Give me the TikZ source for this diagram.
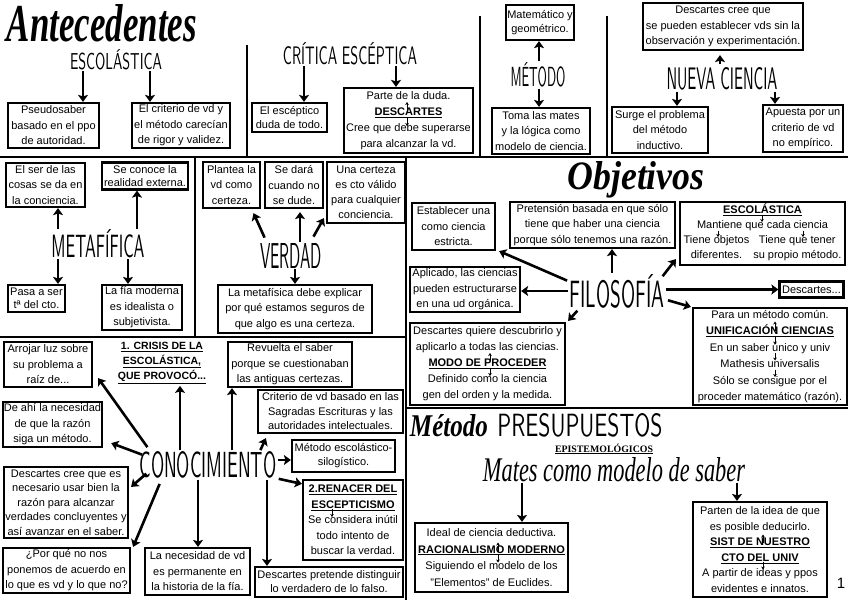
\documentclass[tikz,border=0pt]{standalone}
\usepackage{graphicx}
\usepackage{fontspec}
\setmainfont{Liberation Sans}
\newfontfamily\serifff{Liberation Serif}
\usetikzlibrary{arrows.meta,calc}
\newcommand\thincap[3]{\resizebox{#1pt}{#2pt}{\sffamily #3}}
\begin{document}
\begin{tikzpicture}[x=1pt,y=-1pt]
\tikzset{
 bx/.style={draw, line width=2.2pt, fill=white, align=center, inner sep=1pt, font=\fontsize{11}{15.5}\selectfont},
 arr/.style={line width=2.6pt, -{Stealth[length=7pt,width=10pt,inset=1.5pt]}, shorten <=1pt},
 sarr/.style={line width=0.9pt, -{Stealth[length=3pt,width=3.6pt]}},
 div/.style={line width=2.4pt},
 ttl/.style={inner sep=0pt},
}
\fill[white] (0,0) rectangle (848,600);
\useasboundingbox (0,0) rectangle (848,600);

% dividers
\draw[div] (0,157) -- (848,157);
\draw[div] (247,45) -- (247,157);
\draw[div] (480,16) -- (480,157);
\draw[div] (607,16) -- (607,157);
\draw[div] (195,157) -- (195,337);
\draw[div] (406,157) -- (406,600);
\draw[div] (0,337) -- (406,337);
\draw[div] (406,408) -- (848,408);

% ===== Antecedentes
\node[ttl] (ante) at (102,23.5) {\resizebox{190pt}{37pt}{\serifff\bfseries\itshape Antecedentes}};
\node[ttl] (escol) at (116,60) {\thincap{92}{20}{ESCOLÁSTICA}};
\node[bx, minimum width=91pt, minimum height=45pt] (pseudo) at (53.5,125.5) {Pseudosaber\\basado en el ppo\\de autoridad.};
\node[bx, minimum width=98pt, minimum height=45pt] (crit1) at (181,125.5) {El criterio de vd y\\el método carecían\\de rigor y validez.};
\node[ttl] (critesc) at (350,54) {\thincap{134}{22}{CRÍTICA ESCÉPTICA}};
\node[bx, minimum width=75pt, minimum height=29pt, font=\fontsize{11}{14}\selectfont] (escep) at (289.5,117.5) {El escéptico\\duda de todo.};
\node[bx, minimum width=129pt, minimum height=65pt, font=\fontsize{11}{16}\selectfont] (desc1) at (408.5,120.5) {Parte de la duda.\\\textbf{\underline{DESCARTES}}\\Cree que debe superarse\\para alcanzar la vd.};
\node[bx, minimum width=66pt, minimum height=35pt, font=\fontsize{11}{14}\selectfont] (matem) at (540,22.5) {Matemático y\\geométrico.};
\node[ttl] (metT) at (538,75) {\thincap{55}{24}{MÉTODO}};
\node[bx, minimum width=98pt, minimum height=46pt] (toma) at (541,131) {Toma las mates\\y la lógica como\\modelo de ciencia.};
\node[bx, minimum width=160pt, minimum height=47pt] (descnc) at (723,26.5) {Descartes cree que\\se pueden establecer vds sin la\\observación y experimentación.};
\node[ttl] (nueva) at (722,79) {\thincap{111}{22}{NUEVA CIENCIA}};
\node[bx, minimum width=96pt, minimum height=46pt] (surge) at (660,130) {Surge el problema\\del método\\inductivo.};
\node[bx, minimum width=80pt, minimum height=47pt] (apuesta) at (803,128.5) {Apuesta por un\\criterio de vd\\no empírico.};

\draw[arr] (escol.south -| 83,0) -- (pseudo.north -| 83,0);
\draw[arr] (escol.south -| 150,0) -- (crit1.north -| 150,0);
\draw[arr] (critesc.south -| 304,0) -- (escep.north -| 304,0);
\draw[arr] (critesc.south -| 396,0) -- (desc1.north -| 396,0);
\draw[arr] (metT.north -| 539,0) -- (matem.south -| 539,0);
\draw[arr] (metT.south -| 539,0) -- (toma.north -| 539,0);
\draw[arr, shorten <=3pt, shorten >=4pt] (nueva.north -| 720,0) -- (descnc.south -| 720,0);
\draw[arr] (nueva.south -| 677,0) -- (surge.north -| 677,0);
\draw[arr] (nueva.south -| 775,0) -- (apuesta.north -| 775,0);
\draw[sarr] ($(desc1)+(-1.5,-9.5)$) -- ($(desc1)+(-1.5,-18.5)$);
\draw[sarr] ($(desc1)+(-1.5,-2.5)$) -- ($(desc1)+(-1.5,5.5)$);

% ===== Metafisica
\node[bx, minimum width=79pt, minimum height=44pt] (elser) at (45.5,185) {El ser de las\\cosas se da en\\la conciencia.};
\node[bx, minimum width=86pt, minimum height=27pt, font=\fontsize{11}{13}\selectfont] (seconoce) at (145,176) {Se conoce la\\realidad externa.};
\node[ttl] (metaf) at (98,244) {\thincap{93}{28}{METAFÍFICA}};
\node[bx, minimum width=57pt, minimum height=27pt, font=\fontsize{11}{13}\selectfont] (pasa) at (36.5,298.5) {Pasa a ser\\tª del cto.};
\node[bx, minimum width=80pt, minimum height=45pt] (lafia) at (142,307.5) {La fía moderna\\es idealista o\\subjetivista.};
\draw[arr] (metaf.north -| 58,0) -- (elser.south -| 58,0);
\draw[arr] (metaf.north -| 137,0) -- (seconoce.south -| 137,0);
\draw[arr] (metaf.south -| 58,0) -- (pasa.north -| 58,0);
\draw[arr] (metaf.south -| 128,0) -- (lafia.north -| 128,0);

% ===== Verdad
\node[bx, minimum width=57pt, minimum height=46pt] (plantea) at (231.5,185) {Plantea la\\vd como\\certeza.};
\node[bx, minimum width=58pt, minimum height=46pt] (sedara) at (294,185) {Se dará\\cuando no\\se dude.};
\node[bx, minimum width=78pt, minimum height=61pt, font=\fontsize{11}{15}\selectfont] (unacert) at (366,192.5) {Una certeza\\es cto válido\\para cualquier\\conciencia.};
\node[ttl] (verdad) at (291,255.5) {\thincap{62}{25}{VERDAD}};
\node[bx, minimum width=154pt, minimum height=48pt] (lameta) at (295,309) {La metafísica debe explicar\\por qué estamos seguros de\\que algo es una certeza.};
\draw[arr] ($(verdad)+(-26,-17)$) -- ($(plantea.south)+(22,4)$);
\draw[arr, shorten >=3pt] (verdad.north -| 300,0) -- (sedara.south -| 300,0);
\draw[arr] ($(verdad)+(22,-18)$) -- ($(unacert.south west)+(-2,-6)$);
\draw[arr] (verdad.south -| 295,0) -- (lameta.north -| 295,0);

% ===== Objetivos
\node[ttl] (objT) at (636,180) {\resizebox{137pt}{28pt}{\serifff\bfseries\itshape Objetivos}};
\node[bx, minimum width=83pt, minimum height=47pt] (estab) at (453.5,226.5) {Establecer una\\como ciencia\\estricta.};
\node[bx, minimum width=165pt, minimum height=46pt] (pret) at (592.5,225) {Pretensión basada en que sólo\\tiene que haber una ciencia\\porque sólo tenemos una razón.};
\node[bx, minimum width=165pt, minimum height=63pt, font=\fontsize{11}{15}\selectfont] (escol2) at (762.5,233.5) {\textbf{\underline{ESCOLÁSTICA}}\\Mantiene que cada ciencia\\\begin{tabular}[t]{@{}c@{\hspace{4pt}}c@{}}Tiene objetos & Tiene que tener\\diferentes. & su propio método.\end{tabular}};
\node[ttl] (filo) at (617,291) {\thincap{95}{33}{FILOSOFÍA}};
\node[bx, minimum width=110pt, minimum height=45pt] (aplic) at (465,289.5) {Aplicado, las ciencias\\pueden estructurarse\\en una ud orgánica.};
\node[bx, minimum width=64pt, minimum height=16pt] (descdots) at (811.5,289.5) {Descartes...};
\node[bx, minimum width=155pt, minimum height=82pt, font=\fontsize{11}{16}\selectfont] (modo) at (487.5,364) {Descartes quiere descubrirlo y\\aplicarlo a todas las ciencias.\\\textbf{\underline{MODO DE PROCEDER}}\\Definido como la ciencia\\gen del orden y la medida.};
\node[bx, minimum width=154pt, minimum height=97pt, font=\fontsize{11}{16.5}\selectfont] (unif) at (770,356.5) {Para un método común.\\\textbf{\underline{UNIFICACIÓN CIENCIAS}}\\En un saber único y univ\\Mathesis universalis\\Sólo se consigue por el\\proceder matemático (razón).};
\draw[arr] ($(filo)+(-49,-10)$) -- ($(estab.south east)+(3,0)$);
\draw[arr] (filo.north -| 612,0) -- (pret.south -| 612,0);
\draw[arr] ($(filo)+(45,-14)$) -- ($(escol2.south west)+(-3,-7)$);
\draw[arr] (filo.west) -- (filo.west -| aplic.east);
\draw[arr] (filo.east |- descdots.west) -- (descdots.west);
\draw[arr] ($(filo)+(50,9)$) -- ($(unif.north west)+(-1,0)$);
\draw[arr] ($(filo)+(-39,19)$) -- ($(modo.north east)+(2,-1)$);
\draw[sarr] ($(escol2)+(-0.5,-17.5)$) -- ($(escol2)+(-0.5,-11.5)$);
\draw[sarr] ($(escol2)+(-44.5,-2.5)$) -- ($(escol2)+(-44.5,3.5)$);
\draw[sarr] ($(escol2)+(40.5,-2.5)$) -- ($(escol2)+(40.5,3.5)$);
\draw[sarr] ($(modo)+(2.5,-4)$) -- ($(modo)+(2.5,-11)$);
\draw[sarr] ($(modo)+(2.5,5)$) -- ($(modo)+(2.5,12)$);
\draw[sarr] ($(unif)+(5,-26)$) -- ($(unif)+(5,-35)$);
\draw[sarr] ($(unif)+(5,-20)$) -- ($(unif)+(5,-12)$);
\draw[sarr] ($(unif)+(5,-3.5)$) -- ($(unif)+(5,4)$);
\draw[sarr] ($(unif)+(5,13)$) -- ($(unif)+(5,20.5)$);

% ===== Conocimiento
\node[ttl] (cono) at (208,465) {\thincap{137}{26}{CONOCIMIENTO}};
\node[bx, minimum width=88pt, minimum height=45pt] (arrojar) at (48,364.5) {Arrojar luz sobre\\su problema a\\raíz de...};
\node[font=\bfseries\fontsize{10.5}{15}\selectfont, align=center, inner sep=2pt] (crisis) at (162,363) {\underline{1. CRISIS DE LA}\\\underline{ESCOLÁSTICA,}\\\underline{QUE PROVOCÓ...}};
\node[bx, minimum width=99pt, minimum height=45pt] (deahi) at (52.5,424.5) {De ahí la necesidad\\de que la razón\\siga un método.};
\node[bx, minimum width=124pt, minimum height=71pt, font=\fontsize{11}{14.5}\selectfont] (desccree) at (66,502.5) {Descartes cree que es\\necesario usar bien la\\razón para alcanzar\\verdades concluyentes y\\así avanzar en el saber.};
\node[bx, minimum width=127pt, minimum height=45pt] (porque) at (66.5,570.5) {¿Por qué no nos\\ponemos de acuerdo en\\lo que es vd y lo que no?};
\node[bx, minimum width=105pt, minimum height=47pt] (lanec) at (197.5,571.5) {La necesidad de vd\\es permanente en\\la historia de la fía.};
\node[bx, minimum width=124pt, minimum height=45pt] (revuelta) at (290,364.5) {Revuelta el saber\\porque se cuestionaban\\las antiguas certezas.};
\node[bx, minimum width=145pt, minimum height=43pt, font=\fontsize{11}{14.5}\selectfont] (critvd) at (330.5,411.5) {Criterio de vd basado en las\\Sagradas Escrituras y las\\autoridades intelectuales.};
\node[bx, minimum width=103pt, minimum height=32pt, font=\fontsize{11}{14}\selectfont] (metesc) at (343.5,456) {Método escolástico-\\silogístico.};
\node[bx, minimum width=100pt, minimum height=80pt] (renacer) at (353,520) {\textbf{\underline{2.RENACER DEL}}\\\textbf{\underline{ESCEPTICISMO}}\\Se considera inútil\\todo intento de\\buscar la verdad.};
\node[bx, minimum width=148pt, minimum height=30pt, font=\fontsize{11}{14}\selectfont] (descpret) at (329,582) {Descartes pretende distinguir\\lo verdadero de lo falso.};
\draw[arr] ($(cono)+(-60,-17)$) -- ($(arrojar.south east)+(5,-10)$);
\draw[arr] ($(cono)+(-65,-10)$) -- ($(deahi.south east)+(8,-5)$);
\draw[arr] ($(cono)+(-61,8)$) -- ($(desccree.north east)+(2,21)$);
\draw[arr] ($(cono)+(-48,18)$) -- ($(porque.north east)+(2,0)$);
\draw[arr] (cono.north -| 180,0) -- (crisis.south -| 180,0);
\draw[arr] (cono.south -| 198,0) -- (lanec.north -| 198,0);
\draw[arr] (cono.north -| 232,0) -- (revuelta.south -| 232,0);
\draw[arr] ($(cono)+(52,-14)$) -- ($(critvd.south west)+(9,4)$);
\draw[arr] (cono.east |- 0,460) -- (metesc.west |- 0,460);
\draw[arr] ($(cono.south east)+(1,0)$) -- ($(renacer.north west)+(0,5)$);
\draw[arr] (cono.south -| 267,0) -- (descpret.north -| 267,0);
\draw[sarr] ($(renacer)+(-21,-11)$) -- ($(renacer)+(-21,-3)$);

% ===== Metodo
\node[ttl] (metodo) at (449,426) {\resizebox{78pt}{22pt}{\serifff\bfseries\itshape Método}};
\node[ttl] (presup) at (580,425) {\thincap{165}{23}{PRESUPUESTOS}};
\node[ttl] (epist) at (604,449) {\resizebox{98pt}{!}{\serifff\bfseries\underline{EPISTEMOLÓGICOS}}};
\node[ttl] (mates) at (614,470) {\resizebox{262pt}{24pt}{\serifff\itshape Mates como modelo de saber}};
\node[bx, minimum width=153pt, minimum height=69pt, font=\fontsize{11}{16.5}\selectfont] (racional) at (491.5,557.5) {Ideal de ciencia deductiva.\\\textbf{\underline{RACIONALISMO MODERNO}}\\Siguiendo el modelo de los\\"Elementos" de Euclides.};
\node[bx, minimum width=134pt, minimum height=95pt] (sist) at (760,549.5) {Parten de la idea de que\\es posible deducirlo.\\\textbf{\underline{SIST DE NUESTRO}}\\\textbf{\underline{CTO DEL UNIV}}\\A partir de ideas y ppos\\evidentes e innatos.};
\node[inner sep=0pt] (pnum) at (841,583) {\fontsize{15}{15}\selectfont 1};
\draw[arr] (mates.south -| 522,0) -- (racional.north -| 522,0);
\draw[arr] (mates.south -| 737,0) -- (sist.north -| 737,0);
\draw[sarr] ($(racional)+(6.5,-6)$) -- ($(racional)+(6.5,-15)$);
\draw[sarr] ($(racional)+(6.5,-3.5)$) -- ($(racional)+(6.5,5)$);
\draw[sarr] ($(sist)+(3,-7)$) -- ($(sist)+(3,-15)$);
\draw[sarr] ($(sist)+(3,12)$) -- ($(sist)+(3,20)$);
\end{tikzpicture}
\end{document}
